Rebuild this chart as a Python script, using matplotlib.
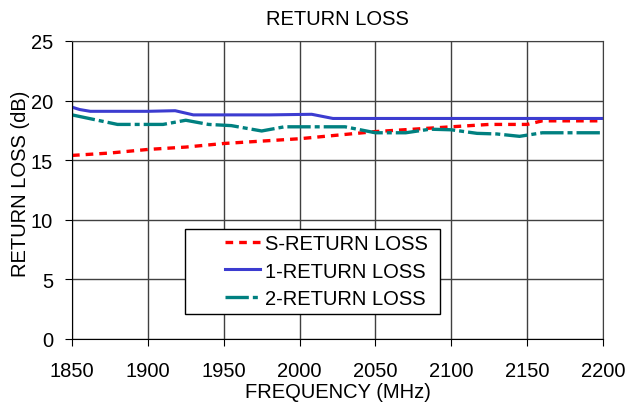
import matplotlib
matplotlib.use('Agg')
import matplotlib.pyplot as plt
from matplotlib.patches import Rectangle

plt.rcParams['font.family'] = ['Liberation Sans', 'DejaVu Sans']

# frequency points (MHz) and return loss (dB)
freq_s = [1850, 1875, 1900, 1925, 1950, 1975, 2000, 2025, 2050, 2075, 2100, 2125, 2150, 2160, 2200]
s_rl = [15.4, 15.6, 15.9, 16.1, 16.4, 16.6, 16.8, 17.1, 17.4, 17.6, 17.8, 18.0, 18.0, 18.3, 18.3]

freq_1 = [1850, 1855, 1862, 1880, 1900, 1918, 1930, 1950, 1980, 2008, 2022, 2050, 2100, 2150, 2200]
rl_1 = [19.45, 19.25, 19.1, 19.1, 19.1, 19.15, 18.8, 18.8, 18.8, 18.85, 18.5, 18.5, 18.5, 18.5, 18.5]

freq_2 = [1850, 1865, 1880, 1895, 1910, 1925, 1940, 1955, 1975, 1990, 2010, 2030, 2050, 2070, 2086,
          2100, 2117, 2130, 2145, 2160, 2180, 2200]
rl_2 = [18.8, 18.4, 18.0, 18.0, 18.0, 18.35, 18.0, 17.9, 17.45, 17.8, 17.8, 17.8, 17.3, 17.3, 17.6,
        17.55, 17.25, 17.2, 17.0, 17.3, 17.3, 17.3]

x_ticks = [1850, 1900, 1950, 2000, 2050, 2100, 2150, 2200]
y_ticks = [0, 5, 10, 15, 20, 25]

fs = 14.5

fig = plt.figure(figsize=(6.25, 4.06), dpi=100)
ax = fig.add_axes([0.1152, 0.1626, 0.8496, 0.734])

ax.plot(freq_s, s_rl, color='#ff0000', lw=2.4, dashes=(2.3, 1.8), label='S-RETURN LOSS')
ax.plot(freq_1, rl_1, color='#3c3cd0', lw=2.2, label='1-RETURN LOSS')
ax.plot(freq_2, rl_2, color='#008080', lw=2.4, dashes=(7, 1.2, 1.5, 1.2), label='2-RETURN LOSS')

ax.set_xlim(1850, 2200)
ax.set_ylim(0, 25)
ax.set_xticks(x_ticks)
ax.set_yticks(y_ticks)
ax.grid(True, color='#404040', lw=1)
ax.tick_params(labelsize=fs, direction='out', length=5, color='black')
ax.tick_params(axis='x', pad=11)
ax.tick_params(axis='y', pad=8.5)
for s in ax.spines.values():
    s.set_color('#404040')
ax.spines['left'].set_color('black')
ax.spines['bottom'].set_color('black')

ax.set_title('RETURN LOSS', fontsize=fs, pad=12)
ax.set_xlabel('FREQUENCY (MHz)', fontsize=fs)
ax.set_ylabel('RETURN LOSS (dB)', fontsize=fs)
ax.xaxis.set_label_coords(0.5, -0.145)
ax.yaxis.set_label_coords(-0.079, 0.525)

# legend box drawn by hand so the entries can sit off-centre like the original
ax.add_patch(Rectangle((0.213, 0.084), 0.48, 0.285, transform=ax.transAxes,
                       facecolor='white', edgecolor='black', lw=1, zorder=5))
leg = ax.legend(loc='center left', bbox_to_anchor=(0.288, 0.228), frameon=False,
                fontsize=fs, handlelength=1.75, handletextpad=0.25,
                borderpad=0, borderaxespad=0, labelspacing=0.4)
leg.set_zorder(6)

fig.savefig('out.png', dpi=100)
